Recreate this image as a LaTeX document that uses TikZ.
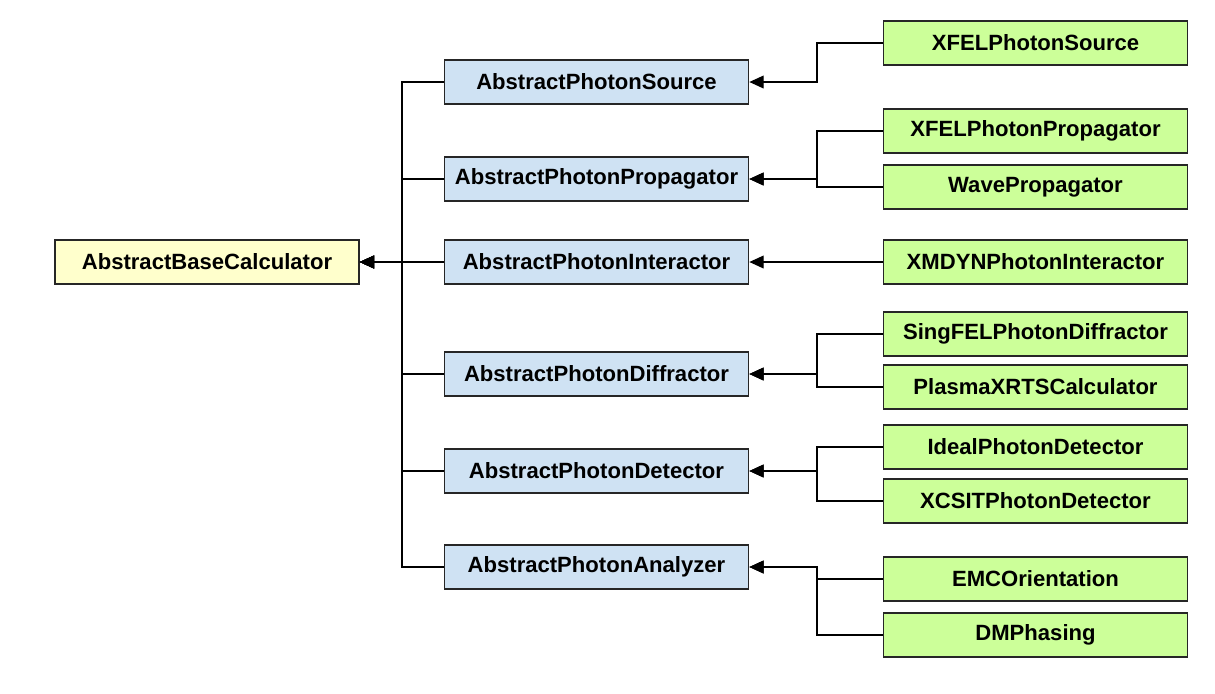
\documentclass[tikz,border=0pt]{standalone}
\usepackage{fontspec}
\setmainfont{Liberation Sans}
\usetikzlibrary{arrows.meta}
\definecolor{basefill}{HTML}{FFFFCC}
\definecolor{absfill}{HTML}{CFE2F3}
\definecolor{implfill}{HTML}{CCFF99}
\tikzset{
  cls/.style={draw=black!85,line width=1.1pt,minimum width=7.6cm,minimum height=1.1cm,inner sep=2pt,align=center,font=\fontsize{15.7}{18}\selectfont\bfseries},
  basecls/.style={cls,fill=basefill},
  abscls/.style={cls,fill=absfill},
  implcls/.style={cls,fill=implfill},
  inherit/.style={line width=1pt,-{Triangle[length=3.6mm,width=3.2mm]}}
}
\begin{document}
\begin{tikzpicture}[x=0.025cm,y=-0.025cm]
\useasboundingbox (0,0) rectangle (1215,693);
\coordinate (lbus) at (402,0);
\coordinate (rbus) at (817,0);
\node[basecls] (b0) at (207,262) {AbstractBaseCalculator};
\node[abscls] (m1) at (596.5,82) {AbstractPhotonSource};
\node[abscls] (m2) at (596.5,179) {AbstractPhotonPropagator};
\node[abscls] (m3) at (596.5,262) {AbstractPhotonInteractor};
\node[abscls] (m4) at (596.5,374) {AbstractPhotonDiffractor};
\node[abscls] (m5) at (596.5,471) {AbstractPhotonDetector};
\node[abscls] (m6) at (596.5,567) {AbstractPhotonAnalyzer};
\node[implcls] (c1) at (1035.5,43) {XFELPhotonSource};
\node[implcls] (c2) at (1035.5,131) {XFELPhotonPropagator};
\node[implcls] (c3) at (1035.5,187) {WavePropagator};
\node[implcls] (c4) at (1035.5,262) {XMDYNPhotonInteractor};
\node[implcls] (c5) at (1035.5,334) {SingFELPhotonDiffractor};
\node[implcls] (c6) at (1035.5,387) {PlasmaXRTSCalculator};
\node[implcls] (c7) at (1035.5,447) {IdealPhotonDetector};
\node[implcls] (c8) at (1035.5,501) {XCSITPhotonDetector};
\node[implcls] (c9) at (1035.5,579) {EMCOrientation};
\node[implcls] (c10) at (1035.5,635) {DMPhasing};
% abstract classes -> base
\foreach \m in {m1,m2,m3,m4,m5,m6}
  \draw[inherit] (\m.west) -- (\m.west -| lbus) |- (b0.east);
% implementations -> abstract classes
\foreach \c/\m in {c1/m1,c2/m2,c3/m2,c4/m3,c5/m4,c6/m4,c7/m5,c8/m5,c9/m6,c10/m6}
  \draw[inherit] (\c.west) -- (\c.west -| rbus) |- (\m.east);
\end{tikzpicture}
\end{document}
